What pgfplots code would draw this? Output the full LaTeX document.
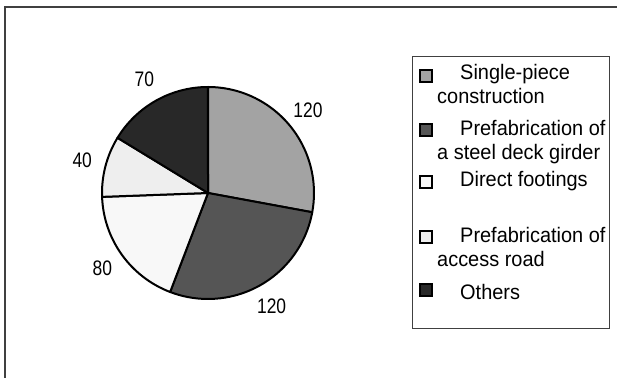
\documentclass[border=0pt]{standalone}
\usepackage{pgfplots}
\pgfplotsset{compat=1.18}
\usepackage{pgfplotstable}
\usepackage{graphicx}
\usepackage{fontspec}
\setmainfont{Liberation Sans}
\definecolor{c1}{HTML}{A3A3A3}
\definecolor{c2}{HTML}{555555}
\definecolor{c3}{HTML}{F8F8F8}
\definecolor{c4}{HTML}{EEEEEE}
\definecolor{c5}{HTML}{282828}
\definecolor{framegray}{HTML}{404040}
\newcommand\lab[1]{\scalebox{0.83}[1]{#1}}
\newcommand\lt[1]{\scalebox{0.95}[1]{#1}}

\pgfplotstableread{
value col
120 c1
120 c2
80 c3
40 c4
70 c5
}\piedata

\begin{document}
\begin{tikzpicture}[font=\fontsize{21bp}{25bp}\selectfont]
\begin{axis}[name=ax, scale only axis, width=617bp, height=378bp,
  xmin=0, xmax=617, ymin=0, ymax=378, hide axis, clip=false]
% outer frame (cropped)
\draw[line width=2bp, color=framegray] (axis cs:5,0) -- (axis cs:5,371) -- (axis cs:617,371);
% pie
\pgfplotstablegetrowsof{\piedata}
\pgfmathtruncatemacro{\nrows}{\pgfplotsretval-1}
\def\total{0}
\pgfplotsforeachungrouped \i in {0,...,\nrows}{%
  \pgfplotstablegetelem{\i}{value}\of\piedata
  \pgfmathsetmacro{\total}{\total+\pgfplotsretval}%
}
\def\cumangle{90}
\pgfplotsforeachungrouped \i in {0,...,\nrows}{%
  \pgfplotstablegetelem{\i}{value}\of\piedata \let\val\pgfplotsretval
  \pgfplotstablegetelem{\i}{col}\of\piedata \let\col\pgfplotsretval
  \pgfmathsetmacro{\endangle}{\cumangle - \val/\total*360}%
  \pgfmathsetmacro{\midangle}{(\cumangle+\endangle)/2}%
  \edef\temp{%
    \noexpand\filldraw[fill=\col, draw=black, line width=2bp, line join=round]
      (axis cs:208,185) -- ++(\cumangle:106bp)
      arc[start angle=\cumangle, end angle=\endangle, radius=106bp] -- cycle;
    \noexpand\path (axis cs:208,185) ++(\midangle:130bp) node[inner sep=0pt] {\noexpand\lab{\val}};
  }%
  \temp
  \global\let\cumangle\endangle
}
% legend
\draw[line width=1bp, color=framegray] (axis cs:412,49) rectangle (axis cs:609,321);
\draw[fill=c1, line width=1.5bp] (axis cs:420,296) rectangle (axis cs:432,308);
\draw[fill=c2, line width=1.5bp] (axis cs:420,242) rectangle (axis cs:432,254);
\draw[fill=c3, line width=1.5bp] (axis cs:420,190) rectangle (axis cs:432,202);
\draw[fill=c4, line width=1.5bp] (axis cs:420,135) rectangle (axis cs:432,147);
\draw[fill=c5, line width=1.5bp] (axis cs:420,82) rectangle (axis cs:432,94);
\node[anchor=base west, inner sep=0pt] at (axis cs:460,298) {\lt{Single-piece}};
\node[anchor=base west, inner sep=0pt] at (axis cs:437,274) {\lt{construction}};
\node[anchor=base west, inner sep=0pt] at (axis cs:460,242) {\lt{Prefabrication of}};
\node[anchor=base west, inner sep=0pt] at (axis cs:437,218) {\lt{a steel deck girder}};
\node[anchor=base west, inner sep=0pt] at (axis cs:460,191) {\lt{Direct footings}};
\node[anchor=base west, inner sep=0pt] at (axis cs:460,135) {\lt{Prefabrication of}};
\node[anchor=base west, inner sep=0pt] at (axis cs:437,111) {\lt{access road}};
\node[anchor=base west, inner sep=0pt] at (axis cs:460,78) {\lt{Others}};
\end{axis}
\pgfresetboundingbox
\path[use as bounding box] (ax.south west) rectangle (ax.north east);
\end{tikzpicture}
\end{document}
